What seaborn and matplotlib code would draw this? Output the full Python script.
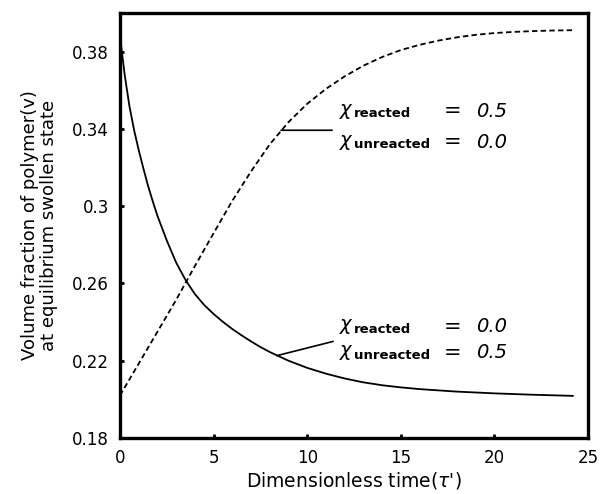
import matplotlib
matplotlib.use("Agg")
import matplotlib.pyplot as plt
import seaborn as sns
import pandas as pd

# Data
time_solid = [0, 0.25, 0.5, 0.75, 1, 1.25, 1.5, 1.75, 2, 2.5, 3, 3.5, 4, 4.5, 5, 5.5, 6,
              6.5, 7, 7.5, 8, 9, 10, 11, 12, 13, 14, 15, 16, 18, 20, 22, 24.2]
v_solid = [0.3880, 0.3680, 0.3520, 0.3395, 0.3290, 0.3195, 0.3105, 0.3025, 0.2950,
           0.2822, 0.2708, 0.2618, 0.2545, 0.2488, 0.2442, 0.2401, 0.2364, 0.2331,
           0.2300, 0.2271, 0.2245, 0.2200, 0.2163, 0.2133, 0.2108, 0.2088, 0.2073,
           0.2062, 0.2053, 0.2040, 0.2031, 0.2024, 0.2018]

time_dashed = [0, 1, 2, 3, 4, 5, 6, 7, 8, 9, 10, 11, 12, 13, 14, 15, 16, 17, 18, 19,
               20, 21, 22, 23, 24.2]
v_dashed = [0.2020, 0.2185, 0.2350, 0.2515, 0.2690, 0.2860, 0.3028, 0.3180, 0.3320,
            0.3435, 0.3530, 0.3607, 0.3672, 0.3727, 0.3772, 0.3808, 0.3835, 0.3857,
            0.3874, 0.3887, 0.3896, 0.3902, 0.3906, 0.3909, 0.3911]

x_ticks = [0, 5, 10, 15, 20, 25]
y_ticks = [0.18, 0.22, 0.26, 0.30, 0.34, 0.38]
y_tick_labels = ["0.18", "0.22", "0.26", "0.3", "0.34", "0.38"]

sns.set_style("ticks")
plt.rcParams['font.family'] = ['DejaVu Sans']
plt.rcParams['mathtext.fontset'] = 'dejavusans'
plt.rcParams['text.color'] = 'black'
plt.rcParams['axes.labelcolor'] = 'black'

fig = plt.figure(figsize=(6.0, 4.94), dpi=100)
ax = fig.add_axes([0.2, 0.1134, 0.78, 0.8603])

df_s = pd.DataFrame({"t": time_solid, "v": v_solid})
df_d = pd.DataFrame({"t": time_dashed, "v": v_dashed})
sns.lineplot(data=df_s, x="t", y="v", ax=ax, color="black", linewidth=1.3, sort=True)
sns.lineplot(data=df_d, x="t", y="v", ax=ax, color="black", linewidth=1.3,
             linestyle=(0, (3.0, 1.8)), sort=True)

ax.set_xlim(0, 25)
ax.set_ylim(0.18, 0.40)
ax.set_xticks(x_ticks)
ax.set_xticklabels([str(t) for t in x_ticks])
ax.set_yticks(y_ticks)
ax.set_yticklabels(y_tick_labels)
ax.tick_params(direction="in", length=3, width=2, labelsize=12, colors="black")
ax.tick_params(axis="x", pad=8)
ax.tick_params(axis="y", pad=8)
for s in ax.spines.values():
    s.set_linewidth(2.4)
    s.set_color("black")

ax.set_xlabel("Dimensionless time($\\tau$')", fontsize=13.5, labelpad=2)
ax.set_ylabel("Volume fraction of polymer(v)\nat equilibrium swollen state",
              fontsize=13, labelpad=10, linespacing=1.1)

def label_block(y1, y2, v1, v2):
    for yy, sub, val in [(y1, "reacted", v1), (y2, "unreacted", v2)]:
        ax.text(11.7, yy, r"$\chi$", fontsize=14, va="center", ha="left")
        ax.text(12.5, yy - 0.0012, sub, fontsize=9.5, fontweight="bold", va="center", ha="left")
        ax.text(17.75, yy, "=", fontsize=15, va="center", ha="center")
        ax.text(19.0, yy, val, fontsize=14, style="italic", va="center", ha="left")

label_block(0.3492, 0.3331, "0.5", "0.0")
label_block(0.2376, 0.2241, "0.0", "0.5")

ax.annotate("", xy=(8.6, 0.3393), xytext=(11.33, 0.3393),
            arrowprops=dict(arrowstyle="-", color="black", lw=1.2, shrinkA=0, shrinkB=0))
ax.annotate("", xy=(8.37, 0.2226), xytext=(11.39, 0.230),
            arrowprops=dict(arrowstyle="-", color="black", lw=1.2, shrinkA=0, shrinkB=0))

fig.savefig("out.png", dpi=100)
